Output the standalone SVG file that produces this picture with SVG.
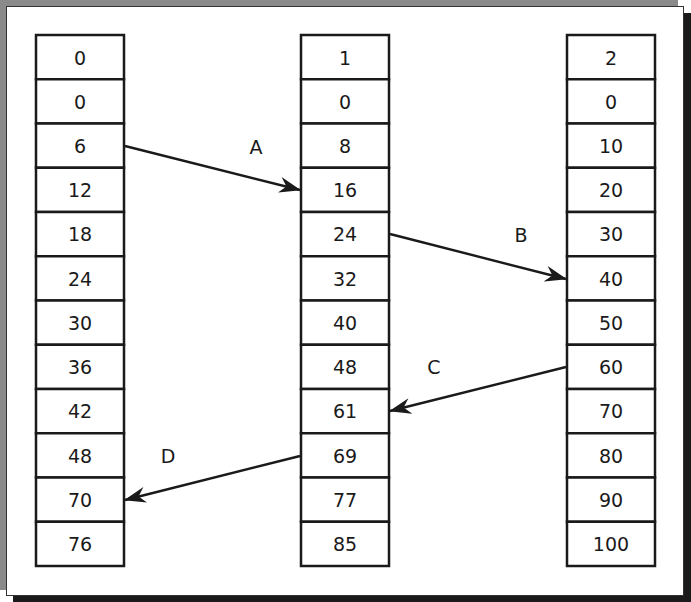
<svg xmlns="http://www.w3.org/2000/svg" width="691" height="602" viewBox="0 0 691 602">
<defs>
<style>
.cell{fill:#fff;stroke:#1a1a1a;stroke-width:2.5}
.t{font-family:"DejaVu Sans",sans-serif;font-size:19px;fill:#1a1a1a;text-anchor:middle;dominant-baseline:central}
.e{stroke:#1a1a1a;stroke-width:2.4;fill:none}
</style>
<marker id="ah" viewBox="0 0 22 16" refX="21" refY="8" markerWidth="22" markerHeight="16" markerUnits="userSpaceOnUse" orient="auto">
<path d="M0,0 L22,8 L0,16 L7,8 Z" fill="#1a1a1a"/>
</marker>
</defs>
<rect x="13" y="13" width="678" height="589" fill="#1a1a1a"/>
<rect x="0" y="0" width="678" height="590" fill="#8a8a8a"/>
<rect x="6.5" y="6.5" width="677" height="589" fill="#fff" stroke="#333" stroke-width="1"/>
<g id="col1">
<rect class="cell" x="36" y="35" width="88" height="44.25"/><text class="t" x="80" y="57.5">0</text>
<rect class="cell" x="36" y="79.25" width="88" height="44.25"/><text class="t" x="80" y="101.5">0</text>
<rect class="cell" x="36" y="123.5" width="88" height="44.25"/><text class="t" x="80" y="145.75">6</text>
<rect class="cell" x="36" y="167.75" width="88" height="44.25"/><text class="t" x="80" y="190">12</text>
<rect class="cell" x="36" y="212" width="88" height="44.25"/><text class="t" x="80" y="234.25">18</text>
<rect class="cell" x="36" y="256.25" width="88" height="44.25"/><text class="t" x="80" y="278.5">24</text>
<rect class="cell" x="36" y="300.5" width="88" height="44.25"/><text class="t" x="80" y="322.75">30</text>
<rect class="cell" x="36" y="344.75" width="88" height="44.25"/><text class="t" x="80" y="367">36</text>
<rect class="cell" x="36" y="389" width="88" height="44.25"/><text class="t" x="80" y="411.25">42</text>
<rect class="cell" x="36" y="433.25" width="88" height="44.25"/><text class="t" x="80" y="455.5">48</text>
<rect class="cell" x="36" y="477.5" width="88" height="44.25"/><text class="t" x="80" y="499.75">70</text>
<rect class="cell" x="36" y="521.75" width="88" height="44.25"/><text class="t" x="80" y="544">76</text>
</g>
<g id="col2">
<rect class="cell" x="301" y="35" width="88" height="44.25"/><text class="t" x="345" y="57.5">1</text>
<rect class="cell" x="301" y="79.25" width="88" height="44.25"/><text class="t" x="345" y="101.5">0</text>
<rect class="cell" x="301" y="123.5" width="88" height="44.25"/><text class="t" x="345" y="145.75">8</text>
<rect class="cell" x="301" y="167.75" width="88" height="44.25"/><text class="t" x="345" y="190">16</text>
<rect class="cell" x="301" y="212" width="88" height="44.25"/><text class="t" x="345" y="234.25">24</text>
<rect class="cell" x="301" y="256.25" width="88" height="44.25"/><text class="t" x="345" y="278.5">32</text>
<rect class="cell" x="301" y="300.5" width="88" height="44.25"/><text class="t" x="345" y="322.75">40</text>
<rect class="cell" x="301" y="344.75" width="88" height="44.25"/><text class="t" x="345" y="367">48</text>
<rect class="cell" x="301" y="389" width="88" height="44.25"/><text class="t" x="345" y="411.25">61</text>
<rect class="cell" x="301" y="433.25" width="88" height="44.25"/><text class="t" x="345" y="455.5">69</text>
<rect class="cell" x="301" y="477.5" width="88" height="44.25"/><text class="t" x="345" y="499.75">77</text>
<rect class="cell" x="301" y="521.75" width="88" height="44.25"/><text class="t" x="345" y="544">85</text>
</g>
<g id="col3">
<rect class="cell" x="567" y="35" width="88" height="44.25"/><text class="t" x="611" y="57.5">2</text>
<rect class="cell" x="567" y="79.25" width="88" height="44.25"/><text class="t" x="611" y="101.5">0</text>
<rect class="cell" x="567" y="123.5" width="88" height="44.25"/><text class="t" x="611" y="145.75">10</text>
<rect class="cell" x="567" y="167.75" width="88" height="44.25"/><text class="t" x="611" y="190">20</text>
<rect class="cell" x="567" y="212" width="88" height="44.25"/><text class="t" x="611" y="234.25">30</text>
<rect class="cell" x="567" y="256.25" width="88" height="44.25"/><text class="t" x="611" y="278.5">40</text>
<rect class="cell" x="567" y="300.5" width="88" height="44.25"/><text class="t" x="611" y="322.75">50</text>
<rect class="cell" x="567" y="344.75" width="88" height="44.25"/><text class="t" x="611" y="367">60</text>
<rect class="cell" x="567" y="389" width="88" height="44.25"/><text class="t" x="611" y="411.25">70</text>
<rect class="cell" x="567" y="433.25" width="88" height="44.25"/><text class="t" x="611" y="455.5">80</text>
<rect class="cell" x="567" y="477.5" width="88" height="44.25"/><text class="t" x="611" y="499.75">90</text>
<rect class="cell" x="567" y="521.75" width="88" height="44.25"/><text class="t" x="611" y="544">100</text>
</g>
<g id="connectors">
<line class="e" x1="125" y1="146" x2="300" y2="190" marker-end="url(#ah)"/>
<line class="e" x1="390" y1="234" x2="566" y2="279" marker-end="url(#ah)"/>
<line class="e" x1="566" y1="367" x2="390" y2="411" marker-end="url(#ah)"/>
<line class="e" x1="300" y1="456" x2="125" y2="500" marker-end="url(#ah)"/>
<text class="t" x="256" y="147">A</text>
<text class="t" x="521" y="235">B</text>
<text class="t" x="434" y="367">C</text>
<text class="t" x="168" y="456">D</text>
</g>
</svg>
